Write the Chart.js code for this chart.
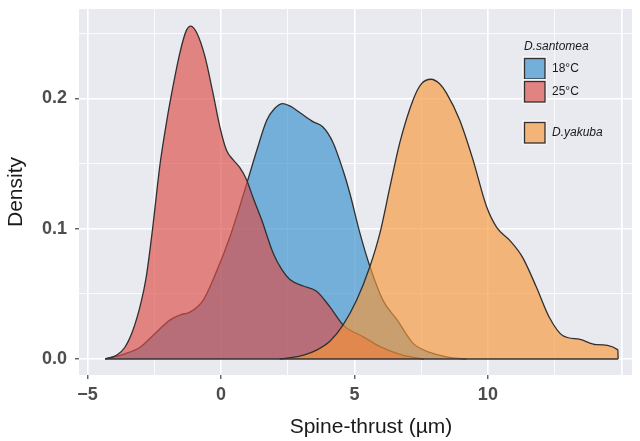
<!DOCTYPE html>
<html>
<head>
<meta charset="utf-8">
<script src="https://cdn.jsdelivr.net/npm/chart.js@4/dist/chart.umd.min.js"></script>
<style>
html,body{margin:0;padding:0;background:#fff;}
#wrap{width:640px;height:441px;}
</style>
</head>
<body>
<div id="wrap"><canvas id="c" width="640" height="441"></canvas></div>
<script>
// ---- data ----
const seriesNames = ['18°C', '25°C', 'D.yakuba'];
const legendGroupTitle = 'D.santomea';
const xAxisTitle = 'Spine-thrust (µm)';
const yAxisTitle = 'Density';

const blueX = [-4.34,-3.6,-3.03,-2.5,-1.9,-1.5,-1.16,-0.67,-0.15,0.34,0.97,1.34,1.71,2.0,2.32,2.6,2.96,3.46,3.82,4.2,4.57,4.83,5.2,5.58,6.07,6.6,7.2,7.83,8.6,9.2];
const blueY = [0,0.004,0.009,0.019,0.030,0.034,0.036,0.045,0.068,0.094,0.135,0.160,0.183,0.192,0.196,0.194,0.189,0.182,0.178,0.166,0.145,0.127,0.097,0.071,0.045,0.030,0.012,0.005,0.001,0];

const redX = [-4.34,-3.9,-3.6,-3.3,-3.0,-2.8,-2.58,-2.28,-2.03,-1.8,-1.54,-1.3,-1.13,-0.9,-0.6,-0.3,-0.04,0.21,0.45,0.7,0.95,1.2,1.52,1.96,2.3,2.58,3.08,3.58,4.08,4.58,5.33,5.96,6.8,7.6];
const redY = [0,0.003,0.009,0.022,0.043,0.063,0.097,0.150,0.183,0.209,0.235,0.252,0.2555,0.250,0.232,0.204,0.178,0.160,0.153,0.147,0.138,0.124,0.107,0.081,0.068,0.061,0.056,0.052,0.040,0.026,0.017,0.0095,0.003,0];

const orangeX = [2.2,2.6,3.1,3.6,4.1,4.57,5.08,5.58,5.96,6.33,6.7,7.2,7.5,7.87,8.2,8.45,8.95,9.44,9.95,10.33,10.82,11.3,11.82,12.3,12.8,13.45,14.07,14.87,14.88];
const orangeY = [0,0.001,0.003,0.007,0.014,0.026,0.045,0.071,0.097,0.132,0.166,0.199,0.211,0.2147,0.211,0.204,0.183,0.153,0.117,0.101,0.091,0.078,0.055,0.032,0.018,0.015,0.011,0.007,0];

const baselineX = [-4.34, 14.88];

const xTickValues = [-5,-2.5,0,2.5,5,7.5,10,12.5,15];
const xTickLabels = {'-5':'\u22125','0':'0','5':'5','10':'10'};
const yTickValues = [0,0.05,0.1,0.15,0.2,0.25];
const yTickLabels = {'0':'0.0','0.1':'0.1','0.2':'0.2'};

// ---- styling ----
const fills = ['rgba(52,143,203,0.65)','rgba(221,75,69,0.65)','rgba(248,150,55,0.65)'];
const panelBg = 'rgb(233,234,239)';
const FONT = '"Liberation Sans", Arial, sans-serif';
Chart.defaults.font.family = FONT;

const pts = (xs, ys) => xs.map((x,i)=>({x:x, y:ys[i]}));

const areaStyle = (i) => ({
  backgroundColor: fills[i],
  borderColor: 'rgb(48,48,48)',
  borderWidth: 1.3,
  pointRadius: 0,
  fill: 'origin',
  tension: 0.4,
  cubicInterpolationMode: 'monotone'
});

const panelPlugin = {
  id: 'panelBg',
  beforeDraw(chart){
    const {ctx, chartArea:a} = chart;
    ctx.save();
    ctx.fillStyle = panelBg;
    ctx.fillRect(a.left, a.top, a.right-a.left, a.bottom-a.top);
    ctx.restore();
  }
};

const legendPlugin = {
  id: 'ggLegend',
  afterDraw(chart){
    const ctx = chart.ctx;
    ctx.save();
    // x-axis title (sits slightly right of the panel centre in the reference)
    ctx.textBaseline = 'middle';
    ctx.textAlign = 'center';
    ctx.fillStyle = '#1a1a1a';
    ctx.font = '21px ' + FONT;
    ctx.fillText(xAxisTitle, 371, 427);

    ctx.textAlign = 'left';
    ctx.font = 'italic 12px ' + FONT;
    ctx.fillText(legendGroupTitle, 524, 47);
    const boxes = [{y:58, label:seriesNames[0], it:false, c:fills[0]},
                   {y:81, label:seriesNames[1], it:false, c:fills[1]},
                   {y:122, label:seriesNames[2], it:true, c:fills[2]}];
    boxes.forEach(b=>{
      ctx.fillStyle = 'rgb(244,244,247)';
      ctx.fillRect(522, b.y-2, 25, 25);
      ctx.fillStyle = panelBg;
      ctx.fillRect(524, b.y, 21, 21);
      ctx.fillStyle = b.c;
      ctx.fillRect(524, b.y, 21, 21);
      ctx.strokeStyle = 'rgb(48,48,48)';
      ctx.lineWidth = 1.3;
      ctx.strokeRect(524.5, b.y+0.5, 20.5, 20.5);
      ctx.fillStyle = '#1a1a1a';
      ctx.font = (b.it ? 'italic ' : '') + '12px ' + FONT;
      ctx.fillText(b.label, 552, b.y + 11);
    });
    ctx.restore();
  }
};

const isMajor = v => Math.abs(v % 5) < 1e-9;
const isMajorY = v => Math.abs(Math.round(v*10) - v*10) < 1e-9;
const noPad = ax => { ax.paddingTop = 0; ax.paddingBottom = 0; ax.paddingLeft = 0; ax.paddingRight = 0; };

new Chart(document.getElementById('c'), {
  type: 'line',
  data: {
    datasets: [
      {label:'baseline', data: pts(baselineX,[0,0]), borderColor:'rgb(48,48,48)', borderWidth:1.4, pointRadius:0, fill:false},
      Object.assign({label:seriesNames[2], data: pts(orangeX, orangeY)}, areaStyle(2)),
      Object.assign({label:seriesNames[1], data: pts(redX, redY)}, areaStyle(1)),
      Object.assign({label:seriesNames[0], data: pts(blueX, blueY)}, areaStyle(0))
    ]
  },
  options: {
    responsive: false,
    animation: false,
    devicePixelRatio: 1,
    layout: {padding: {top: 9, right: 8, left: 0, bottom: 0}},
    plugins: {legend: {display:false}, tooltip: {enabled:false}},
    scales: {
      x: {
        type: 'linear',
        min: -5.32, max: 15.4,
        afterBuildTicks: ax => { ax.ticks = xTickValues.map(v=>({value:v})); },
        afterFit: ax => { ax.height = 66; noPad(ax); },
        border: {display:false},
        grid: {
          color: '#ffffff',
          lineWidth: c => (c.tick && isMajor(c.tick.value)) ? 1.6 : 0.8,
          tickColor: c => (c.tick && xTickLabels[String(c.tick.value)] !== undefined) ? 'rgb(51,51,51)' : 'rgba(0,0,0,0)',
          tickLength: 4,
          tickWidth: 1.1
        },
        ticks: {
          autoSkip: false, maxRotation: 0, padding: 5,
          color: '#4d4d4d',
          font: {size: 18, weight: 'bold'},
          callback: v => { const l = xTickLabels[String(v)]; return l === undefined ? '' : l; }
        },
        title: {display:false}
      },
      y: {
        type: 'linear',
        min: -0.0123, max: 0.2686,
        afterBuildTicks: ax => { ax.ticks = yTickValues.map(v=>({value:v})); },
        afterFit: ax => { ax.width = 79; noPad(ax); },
        border: {display:false},
        grid: {
          color: '#ffffff',
          lineWidth: c => (c.tick && isMajorY(c.tick.value)) ? 1.6 : 0.8,
          tickColor: c => (c.tick && yTickLabels[String(c.tick.value)] !== undefined) ? 'rgb(51,51,51)' : 'rgba(0,0,0,0)',
          tickLength: 4,
          tickWidth: 1.1
        },
        ticks: {
          autoSkip: false, padding: 8,
          color: '#4d4d4d',
          font: {size: 18, weight: 'bold'},
          callback: v => { const l = yTickLabels[String(v)]; return l === undefined ? '' : l; }
        },
        title: {display:true, text:yAxisTitle, color:'#1a1a1a', font:{size:21}, padding:{top:4,bottom:0}}
      }
    }
  },
  plugins: [panelPlugin, legendPlugin]
});
</script>
</body>
</html>
